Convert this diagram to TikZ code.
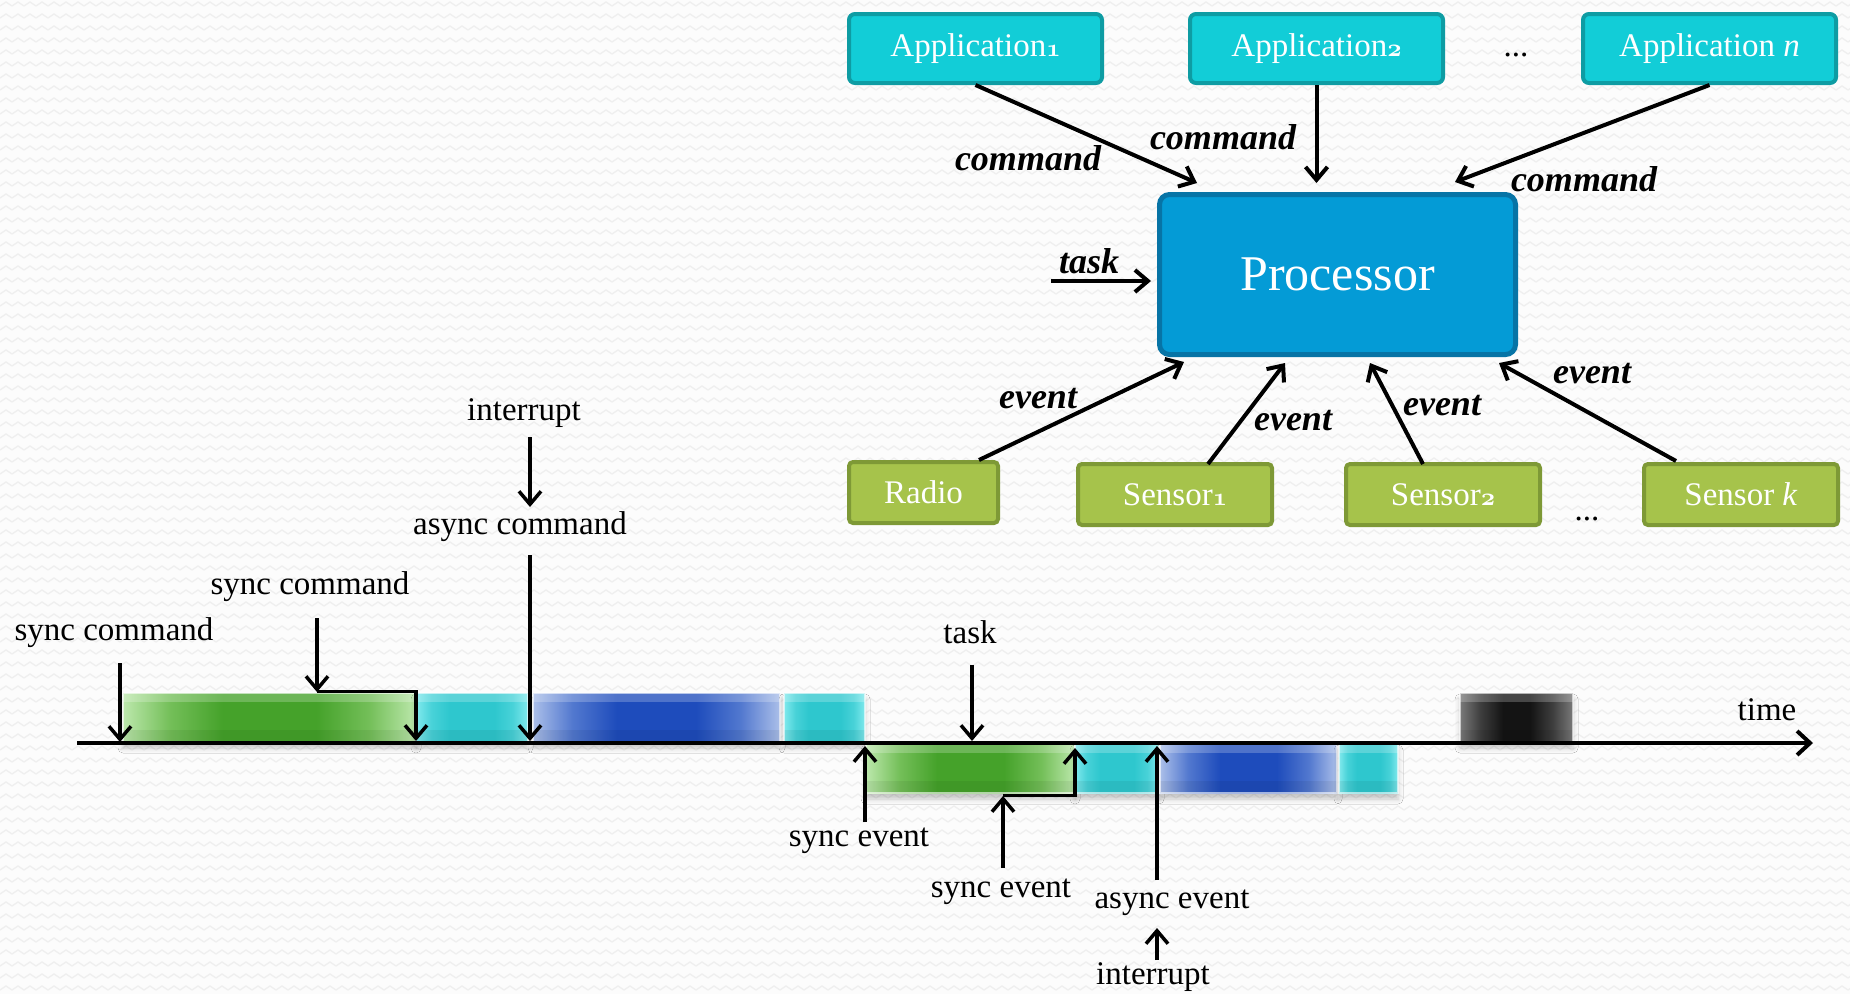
\documentclass[tikz,border=0pt]{standalone}
\usepackage{fontspec}
\setmainfont{Liberation Serif}
\usetikzlibrary{arrows.meta,calc,shadows.blur,patterns}
\definecolor{bgcol}{HTML}{FCFCFC}
\definecolor{zigcol}{HTML}{EFEFEF}
\definecolor{appfill}{HTML}{12CDD7}
\definecolor{appline}{HTML}{0E9CA3}
\definecolor{procfill}{HTML}{049BD6}
\definecolor{procline}{HTML}{0774A6}
\definecolor{senfill}{HTML}{A6C34B}
\definecolor{senline}{HTML}{7E9936}
\definecolor{grD}{HTML}{45A22A}\definecolor{grM}{HTML}{74BF59}\definecolor{grL}{HTML}{BCE8AC}
\definecolor{cyD}{HTML}{2EC7CE}\definecolor{cyM}{HTML}{48D2D8}\definecolor{cyL}{HTML}{80E9ED}
\definecolor{blD}{HTML}{1E4CBC}\definecolor{blM}{HTML}{5278CF}\definecolor{blL}{HTML}{ABBFE9}
\definecolor{bkD}{HTML}{141414}\definecolor{bkM}{HTML}{3E3E3E}\definecolor{bkL}{HTML}{7A7A7A}
% glossy activity blocks: dark in the middle, light towards both ends
\pgfdeclarehorizontalshading{greenblk}{100bp}{%
  color(0bp)=(grL); color(25bp)=(grL); color(33bp)=(grM); color(42bp)=(grD);
  color(58bp)=(grD); color(67bp)=(grM); color(75bp)=(grL); color(100bp)=(grL)}
\pgfdeclarehorizontalshading{cyanblk}{100bp}{%
  color(0bp)=(cyL); color(25bp)=(cyL); color(32bp)=(cyM); color(40bp)=(cyD);
  color(60bp)=(cyD); color(68bp)=(cyM); color(75bp)=(cyL); color(100bp)=(cyL)}
\pgfdeclarehorizontalshading{blueblk}{100bp}{%
  color(0bp)=(blL); color(25bp)=(blL); color(33bp)=(blM); color(42bp)=(blD);
  color(58bp)=(blD); color(67bp)=(blM); color(75bp)=(blL); color(100bp)=(blL)}
\pgfdeclarehorizontalshading{blackblk}{100bp}{%
  color(0bp)=(bkL); color(25bp)=(bkL); color(34bp)=(bkM); color(44bp)=(bkD);
  color(56bp)=(bkD); color(66bp)=(bkM); color(75bp)=(bkL); color(100bp)=(bkL)}
% faint zigzag paper texture
\pgfdeclarepatternformonly{zigbg}{\pgfpoint{-1pt}{-1pt}}{\pgfpoint{13pt}{13pt}}{\pgfpoint{12pt}{12pt}}{%
  \pgfsetlinewidth{1.3pt}%
  \pgfpathmoveto{\pgfpoint{0pt}{4pt}}%
  \pgfpathlineto{\pgfpoint{6pt}{8pt}}%
  \pgfpathlineto{\pgfpoint{12pt}{4pt}}%
  \pgfusepath{stroke}}
\newcommand\lblfont{\fontsize{33}{40}\selectfont}
\newcommand\emfont{\fontsize{36}{42}\selectfont\bfseries\itshape}
\newcommand\procfont{\fontsize{50}{60}\selectfont}
% old-style index digits
\newcommand\osdig[1]{{\fontsize{39}{40}\usefont{OML}{cmm}{b}{it}#1}}
\begin{document}
\begin{tikzpicture}[x=1pt,y=-1pt,
  appbox/.style={draw=appline, fill=appfill, line width=4pt, rounded corners=6pt,
    minimum width=253pt, minimum height=69pt, text=white, font=\lblfont, inner sep=0pt},
  procbox/.style={draw=procline, fill=procfill, line width=5pt, rounded corners=10pt,
    minimum width=356pt, minimum height=160pt, text=white, font=\procfont},
  senbox/.style={draw=senline, fill=senfill, line width=4pt, rounded corners=4pt,
    minimum width=194pt, minimum height=61pt, text=white, font=\lblfont, inner sep=0pt},
  conn/.style={line width=4pt, -{Straight Barb[length=13pt,width=22pt]}},
  tl/.style={line width=3.5pt, -{Straight Barb[length=13pt,width=22pt]}},
  elab/.style={font=\emfont, inner sep=0pt},
  tlab/.style={font=\lblfont, inner sep=0pt},
  blk/.style={inner sep=0pt, outer sep=0pt, minimum height=49pt, anchor=north west,
    draw=white, draw opacity=0.6, line width=1.5pt,
    blur shadow={shadow xshift=0pt, shadow yshift=-6pt, shadow blur radius=5pt, shadow opacity=22},
    path picture={
      % soft gloss along the top, a touch of depth along the bottom
      \fill[white, opacity=0.22] (path picture bounding box.north west)
        rectangle ([yshift=-9pt]path picture bounding box.north east);
      \fill[black, opacity=0.06] ([yshift=12pt]path picture bounding box.south west)
        rectangle (path picture bounding box.south east);
    }},
]
% canvas
\useasboundingbox (0,0) rectangle (1850,994);
\fill[bgcol] (0,0) rectangle (1850,994);
\fill[pattern=zigbg, pattern color=zigcol] (0,0) rectangle (1850,994);

% ---------------- processor and its clients ----------------
\node[appbox] (app1) at (975.5,48.5) {Application\osdig{1}};
\node[appbox] (app2) at (1316.5,48.5) {Application\osdig{2}};
\node[appbox] (appn) at (1709.5,48.5) {Application \textit{n}};
\node[tlab, anchor=base] (adots) at (1516,56) {...};

\node[procbox] (proc) at (1337.5,274.5) {Processor};

\node[senbox, minimum width=149pt] (radio) at (923.5,492.5) {Radio};
\node[senbox] (sen1) at (1175,494.5) {Sensor\osdig{1}};
\node[senbox] (sen2) at (1443,494.5) {Sensor\osdig{2}};
\node[senbox] (senk) at (1741,494.5) {Sensor \textit{k}};
\node[tlab, anchor=base] (sdots) at (1587,520) {...};

% commands from the applications
\draw[conn] (app1.south) -- ($(proc.north west)+(40,-9)$);
\draw[conn] (app2.south) -- ($(app2.south |- proc.north)+(0,-9)$);
\draw[conn] (appn.south) -- ($(proc.north east)+(-63,-10)$);
\node[elab] (lc1) at (1028,158) {command};
\node[elab] (lc2) at (1223,137) {command};
\node[elab] (lc3) at (1584,179) {command};

% task input
\coordinate (taskin) at (1051,281);
\draw[conn] (taskin) -- ($(taskin -| proc.west)+(-6,0)$);
\node[elab] (ltask) at (1089,261) {task};

% events from radio and sensors
\draw[conn] ($(radio.north east)+(-21,0)$) -- ($(proc.south west)+(27,5)$);
\draw[conn] ($(sen1.north)+(33,2)$) -- ($(proc.south west)+(128,6)$);
\draw[conn] ($(sen2.north)+(-20,2)$) -- ($(proc.south west)+(213,6)$);
\draw[conn] ($(senk.north)+(-65,-1)$) -- ($(proc.south east)+(-19,6)$);
\node[elab] (le1) at (1038,399) {event};
\node[elab] (le2) at (1293,421) {event};
\node[elab] (le3) at (1442,406) {event};
\node[elab] (le4) at (1592,374) {event};

% ---------------- execution timeline ----------------
% activity above the axis
\node[blk, minimum width=293pt, shading=greenblk] (g1) at (123,693) {};
\node[blk, minimum width=112pt, shading=cyanblk] (c1) at (416,693) {};
\node[blk, minimum width=247pt, shading=blueblk] (b1) at (533,693) {};
\node[blk, minimum width=81pt, shading=cyanblk] (c2) at (784,693) {};
% activity below the axis
\node[blk, minimum width=209pt, shading=greenblk] (g2) at (866,744) {};
\node[blk, minimum width=84pt, shading=cyanblk] (c3) at (1075,744) {};
\node[blk, minimum width=177pt, shading=blueblk] (b2) at (1160,744) {};
\node[blk, minimum width=59pt, shading=cyanblk] (c4) at (1339,744) {};
% idle block
\node[blk, minimum width=113pt, shading=blackblk] (k1) at (1460,693) {};

% time axis
\coordinate (axs) at (77,743);
\coordinate (axe) at (1813,743);
\draw[line width=4pt, -{Straight Barb[length=13pt,width=24pt]}] (axs) -- (axe);
\node[tlab] (ltime) at (1767,710) {time};

% sync command at the start
\coordinate (sc1) at (120,663);
\draw[tl] (sc1) -- ($(sc1 |- axs)+(0,-1)$);
\node[tlab] (lsc1) at (114,633) {sync command};

% nested sync command and its return
\coordinate (sc2) at (317,618);
\draw[tl] (sc2) -- ($(sc2 |- g1.north)+(0,-1)$);
\draw[tl] ($(sc2 |- g1.north)+(0,-1.5)$) -- ($(g1.north east)+(0,-1.5)$) -- ($(g1.south east)+(0,-1)$);
\node[tlab] (lsc2) at (310,587) {sync command};

% interrupt leading to an async command
\coordinate (ir1) at (530,437);
\coordinate (ir1e) at (530,507);
\draw[tl] (ir1) -- (ir1e);
\node[tlab] (lir1) at (524,413) {interrupt};
\coordinate (ac) at (530,555);
\draw[tl] (ac) -- ($(ac |- axs)+(0,-2)$);
\node[tlab] (lac) at (520,527) {async command};

% task posted
\coordinate (tk) at (972,665);
\draw[tl] (tk) -- ($(tk |- axs)+(0,-2)$);
\node[tlab] (ltk) at (970,632) {task};

% sync event
\coordinate (se1) at (865,822);
\draw[tl] (se1) -- ($(se1 |- axs)+(0,3)$);
\node[tlab] (lse1) at (859,841) {sync event};

% nested sync event and its return
\coordinate (se2) at (1003,868);
\draw[tl] (se2) -- ($(se2 |- g2.south)+(0,3)$);
\draw[tl] ($(se2 |- g2.south)+(0,2.5)$) -- ($(g2.south east)+(0,2.5)$) -- ($(g2.north east)+(0,4)$);
\node[tlab] (lse2) at (1001,892) {sync event};

% async event raised by an interrupt
\coordinate (ae) at (1157,880);
\draw[tl] (ae) -- ($(ae |- axs)+(0,3)$);
\node[tlab] (lae) at (1172,903) {async event};
\coordinate (ir2) at (1157,960);
\coordinate (ir2e) at (1157,928);
\draw[tl] (ir2) -- (ir2e);
\node[tlab] (lir2) at (1153,977) {interrupt};
\end{tikzpicture}
\end{document}
